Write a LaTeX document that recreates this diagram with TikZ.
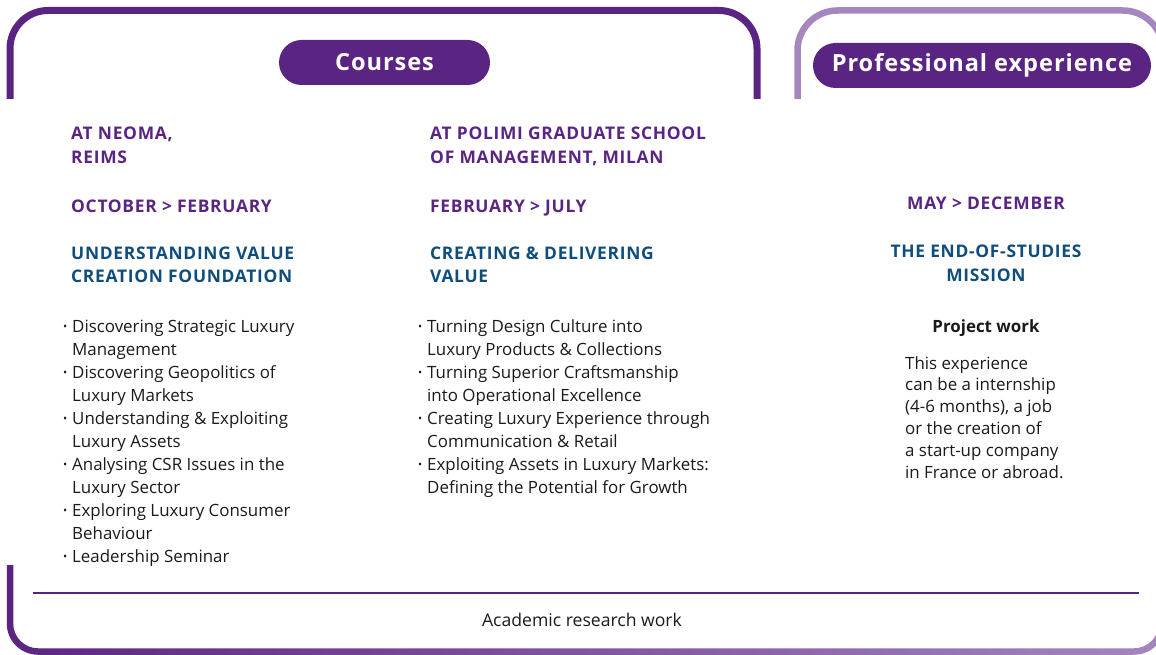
\documentclass[tikz,border=0pt]{standalone}
\usepackage{fontspec}
\setmainfont{Open Sans}
\newfontfamily\headfont[LetterSpace=4]{Open Sans}
\definecolor{neomapurple}{HTML}{5A2582}
\definecolor{neomalilac}{HTML}{A586BE}
\definecolor{neomablue}{HTML}{0F4E7C}
\definecolor{bodyblack}{HTML}{1A1A1A}
\newcommand{\itm}{\llap{\raisebox{1.5pt}{\fontsize{11}{11}\selectfont\textbullet}\hspace{5pt}}}
\tikzset{
  frame/.style={line width=7pt},
  pill/.style={rounded corners=22.5pt, fill=neomapurple, text=white, inner sep=0pt,
    minimum height=45pt, font=\headfont\fontsize{23.6}{28}\selectfont\bfseries},
  place/.style={text=neomapurple, align=left, inner sep=0pt, anchor=base west,
    font=\headfont\fontsize{17.4}{24}\selectfont\bfseries},
  theme/.style={text=neomablue, align=left, inner sep=0pt, anchor=base west,
    font=\headfont\fontsize{17.4}{23.5}\selectfont\bfseries},
  bodytxt/.style={text=bodyblack, align=left, inner sep=0pt, anchor=base west,
    font=\fontsize{16.9}{23}\selectfont},
}
\begin{document}
\begin{tikzpicture}[x=1pt, y=-1pt]
\useasboundingbox (0,0) rectangle (1156,655);
\clip (0,0) rectangle (1156,655);
% frames
\draw[frame, neomapurple, rounded corners=38] (10,99) |- (757,10.5) -- (757,99);
\draw[frame, neomalilac, line width=6.5pt, rounded corners=40] (797.5,99) |- (1163,10.5) -- (1163,99);
\shade[left color=neomapurple, right color=neomalilac]
  (6.75,565) -- (6.75,623.5) arc[start angle=180, end angle=90, radius=31.25]
  -- (1134,654.75) arc[start angle=90, end angle=0, radius=31.25] -- (1165.25,565)
  -- (1158.75,565) -- (1158.75,623.5) arc[start angle=0, end angle=90, radius=24.75]
  -- (38,648.25) arc[start angle=90, end angle=180, radius=24.75] -- (13.25,565) -- cycle;
\draw[neomapurple, line width=1.8pt] (33,593) -- (1139,593);
% titles
\draw (384.5,62.5) node[pill, minimum width=211pt] (courses) {Courses};
\draw (982,65.5) node[pill, minimum width=338pt] (proexp) {Professional experience};
% neoma (multi-line nodes sit on their last line)
\draw (71,164) node[place] (neoma) {AT NEOMA,\\REIMS};
\draw (71,212) node[place] (neomadates) {OCTOBER > FEBRUARY};
\draw (71,282.5) node[theme] (neomatheme) {UNDERSTANDING VALUE\\CREATION FOUNDATION};
\draw (72,562) node[bodytxt] (neomalist) {\itm Discovering Strategic Luxury\\Management\\
  \itm Discovering Geopolitics of\\Luxury Markets\\
  \itm Understanding \& Exploiting\\Luxury Assets\\
  \itm Analysing CSR Issues in the\\Luxury Sector\\
  \itm Exploring Luxury Consumer\\Behaviour\\
  \itm Leadership Seminar};
% polimi
\draw (430,164) node[place] (polimi) {AT POLIMI GRADUATE SCHOOL\\OF MANAGEMENT, MILAN};
\draw (430,212) node[place] (polimidates) {FEBRUARY > JULY};
\draw (430,282.5) node[theme] (polimitheme) {CREATING \& DELIVERING\\VALUE};
\draw (427,493) node[bodytxt] (polimilist) {\itm Turning Design Culture into\\Luxury Products \& Collections\\
  \itm Turning Superior Craftsmanship\\into Operational Excellence\\
  \itm Creating Luxury Experience through\\Communication \& Retail\\
  \itm Exploiting Assets in Luxury Markets:\\Defining the Potential for Growth};
% professional experience
\draw (986,209) node[place, anchor=base] (pedates) {MAY > DECEMBER};
\draw (986,281) node[theme, anchor=base, align=center] (petheme) {THE END-OF-STUDIES\\MISSION};
\draw (986,332) node[bodytxt, anchor=base, font=\fontsize{16.9}{23}\selectfont\bfseries] (project) {Project work};
\draw (905,478) node[bodytxt, font=\fontsize{16.9}{21.8}\selectfont] (petext) {This experience\\can be a internship\\(4-6 months), a job\\or the creation of\\a start-up company\\in France or abroad.};
\draw (582,626) node[bodytxt, anchor=base, font=\fontsize{17.6}{23}\selectfont] (research) {Academic research work};
\end{tikzpicture}
\end{document}
